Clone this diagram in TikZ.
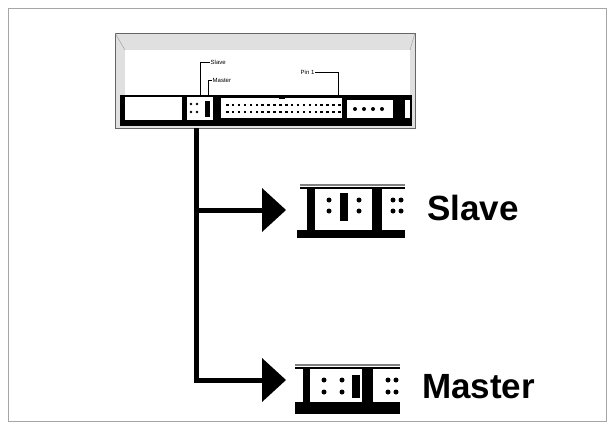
\documentclass[tikz,border=0pt]{standalone}
\usepackage{fontspec}
\setmainfont{Liberation Sans}
\begin{document}
\begin{tikzpicture}[x=1pt,y=-1pt,
  wht/.style={fill=white,draw=none},
  wire/.style={line width=5pt},
  lbl/.style={font=\fontsize{35}{35}\bfseries\selectfont,anchor=west,inner sep=0pt},
  tiny/.style={font=\fontsize{6}{6}\selectfont,anchor=west,inner sep=0.5pt}]
\useasboundingbox (0,0) rectangle (612,426);
\draw[gray!70,line width=1pt] (8,8) rectangle (606,421);
% drive
\draw[black!60,fill=black!12,line width=1pt] (115,33) rectangle (415,128);
\fill[white] (125,50) rectangle (410,97);
\draw[black!40] (115,33) -- (125,50) (415,33) -- (410,50);
\fill[black] (120,95) rectangle (412,126);
\fill[white] (125,97) rectangle (182,120);
\fill[white] (187,97) rectangle (213,120);
\fill[black] (205,101) rectangle (210,117);
\foreach \x in {191,197} \foreach \y in {104,112} \fill (\x,\y) circle (1.3pt);
\fill[white] (221,98) rectangle (342,118);
\foreach \i in {0,...,19} {\fill (226+\i*5.9,103.5) rectangle +(2.5,2.5); \fill (226+\i*5.9,110.5) rectangle +(2.5,2.5);}
\fill[black] (279,96) rectangle (285,99);
\fill[white] (347,100) rectangle (393,118);
\foreach \x in {355,364,373,382} \fill (\x,109) circle (2pt);
\fill[white] (405,100) rectangle (410,118);
\node[tiny] (sl) at (210,62) {Slave};
\node[tiny] (ma) at (212,80) {Master};
\node[tiny] (p1) at (300,72) {Pin 1};
\draw[line width=1pt] (200,97) |- (sl.west);
\draw[line width=1pt] (208,97) |- (ma.west);
\draw[line width=1pt] (p1.east) -| (338,97);
% wires
\coordinate (top) at (196,128);
\coordinate (bot) at (196,380);
\coordinate (br1) at (196,210);
\coordinate (a1) at (262,210);
\coordinate (a2) at (262,380);
\draw[wire] (top) -- (bot) -- (a2);
\draw[wire] (br1) -- (a1);
\fill (262,188) -- (286,210) -- (262,232) -- cycle;
\fill (262,358) -- (286,380) -- (262,402) -- cycle;
% slave connector
\draw[gray,line width=1.5pt] (300,185) -- (405,185);
\fill[black] (300,187) rectangle (405,189);
\fill[black] (307,189) rectangle (315,231);
\fill[wht] (315,190) rectangle (372,229);
\fill[black] (340,193) rectangle (348,221);
\foreach \x in {329,359} \foreach \y in {200,211} \fill (\x,\y) circle (2.5pt);
\fill[black] (372,189) rectangle (382,231);
\fill[wht] (382,194) rectangle (405,229);
\foreach \x in {393,401} \foreach \y in {200,211} \fill (\x,\y) circle (2.5pt);
\fill[black] (297,230) rectangle (405,238);
\node[lbl] (slave) at (427,208) {Slave};
% master connector
\draw[gray,line width=1.5pt] (295,365) -- (400,365);
\fill[black] (295,367) rectangle (400,369);
\fill[black] (303,369) rectangle (310,405);
\fill[wht] (310,370) rectangle (362,402);
\fill[black] (352,375) rectangle (360,398);
\foreach \x in {324,342} \foreach \y in {380,392} \fill (\x,\y) circle (2.5pt);
\fill[black] (362,369) rectangle (373,405);
\fill[wht] (373,374) rectangle (400,402);
\foreach \x in {388,396} \foreach \y in {380,392} \fill (\x,\y) circle (2.5pt);
\fill[black] (295,402) rectangle (400,414);
\node[lbl] (master) at (422,387) {Master};
\end{tikzpicture}
\end{document}
